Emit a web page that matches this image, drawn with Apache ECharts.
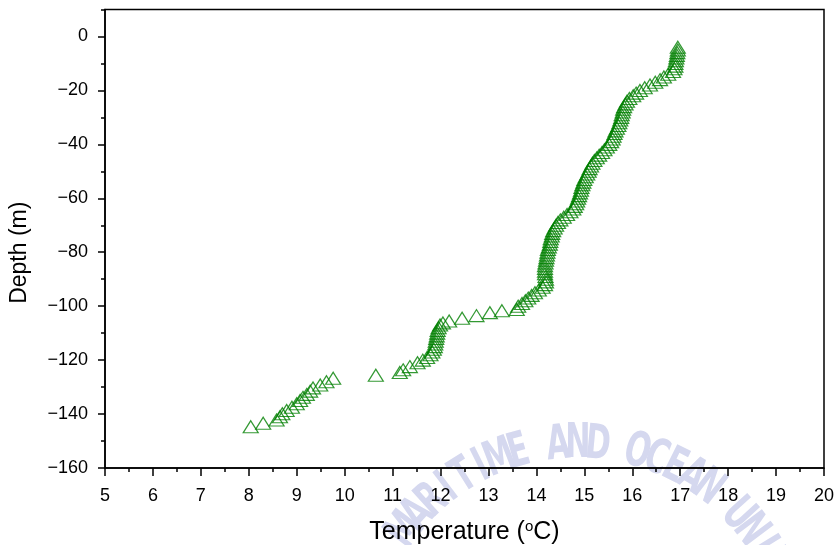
<!DOCTYPE html>
<html>
<head>
<meta charset="utf-8">
<script src="https://cdn.jsdelivr.net/npm/echarts@6/dist/echarts.min.js"></script>
<style>
html,body{margin:0;padding:0;background:#fff;}
#chart{width:837px;height:545px;}
</style>
</head>
<body>
<div id="chart"></div>
<script>
const depths = [
  -4,-5,-6,-7,-8,-9,-10,-11,-12,-13,-14,-15,-16,-17,-18,-19,-20,-21,-22,-23,-24,-25,-26,-27,-28,-29,-30,
  -31,-32,-33,-34,-35,-36,-37,-38,-39,-40,-41,-42,-43,-44,-45,-46,-47,-48,-49,-50,
  -51,-52,-53,-54,-55,-56,-57,-58,-59,-60,-61,-62,-63,-64,-65,-66,-67,-68,-69,-70,
  -71,-72,-73,-74,-75,-76,-77,-78,-79,-80,-81,-82,-83,-84,-85,-86,-87,-88,-89,-90,
  -91,-92,-93,-94,-95,-96,-97,-98,-99,-100,
  -101.2,-101.7,-102.4,-103.5,-104.5,-105.5,-106.2,-107,-108,-109,-110,
  -111,-112,-113,-114,-115,-116,-117,-118,-119,-120,-121,-122.4,-123.6,-124.6,-125.6,
  -126.7,-128,-129.2,-130.3,-131.5,-132.7,-133.8,-135,-136.2,-137.5,-138.7,-139.9,-141,-142.2,-143.4,-144.7
];
const temps = [
  16.95,16.95,16.94,16.93,16.92,16.91,16.9,16.9,16.88,16.85,16.75,16.66,16.58,16.48,16.37,16.26,16.16,16.08,16.02,15.94,15.89,15.86,15.83,15.81,15.8,15.78,15.77,
  15.75,15.73,15.71,15.68,15.65,15.63,15.61,15.59,15.56,15.52,15.47,15.42,15.37,15.31,15.26,15.21,15.17,15.14,15.11,15.09,
  15.06,15.03,15.0,14.98,14.96,14.94,14.93,14.91,14.89,14.87,14.85,14.83,14.8,14.77,14.71,14.64,14.57,14.5,14.45,14.41,
  14.38,14.35,14.33,14.32,14.3,14.29,14.28,14.26,14.24,14.23,14.22,14.21,14.2,14.19,14.18,14.18,14.18,14.18,14.19,14.2,
  14.2,14.18,14.13,14.05,13.97,13.9,13.83,13.77,13.7,13.62,
  13.59,13.28,13.03,12.75,12.45,12.18,12.05,11.99,11.96,11.94,11.93,
  11.92,11.91,11.9,11.89,11.88,11.86,11.83,11.79,11.72,11.63,11.52,11.36,11.22,11.15,10.65,
  9.76,9.62,9.49,9.34,9.28,9.21,9.13,9.07,9.0,8.9,8.79,8.7,8.65,8.58,8.3,8.04
];
const xTicks = {min: 5, max: 20, step: 1};
const yTicks = {min: -160, max: 10, step: 20};
const watermark = 'MARITIME AND OCEAN UNIV';

const points = depths.map((d, i) => [temps[i], d]);

// faint watermark letters along an arc
const wmGraphics = [];
const cx = 578, cy = 660, r = 215;
for (let i = 0; i < watermark.length; i++) {
  const ch = watermark[i];
  if (ch === ' ') continue;
  const ang = (-143 + i * 5.3) * Math.PI / 180;
  wmGraphics.push({
    type: 'text', z: -10, silent: true,
    x: cx + r * Math.cos(ang), y: cy + r * Math.sin(ang),
    rotation: -(ang + Math.PI / 2),
    scaleX: 0.7,
    style: {
      text: ch, fill: '#d5d8ef', font: 'bold 48px "Liberation Sans Narrow", "DejaVu Sans Condensed", sans-serif',
      align: 'center', verticalAlign: 'middle'
    }
  });
}

const chart = echarts.init(document.getElementById('chart'), null, {renderer: 'canvas'});
chart.setOption({
  animation: false,
  backgroundColor: '#fff',
  graphic: wmGraphics,
  grid: {left: 105, right: 13, top: 9.5, bottom: 77, containLabel: false, outerBoundsMode: 'none',
    show: true, borderColor: '#000', borderWidth: 1.5, backgroundColor: 'transparent'},
  xAxis: {
    type: 'value', min: xTicks.min, max: xTicks.max, interval: xTicks.step,
    name: '{n|Temperature (}{s|o}{n|C)}', nameLocation: 'middle', nameGap: 51,
    nameTextStyle: {rich: {
      n: {fontFamily: 'Liberation Sans', fontSize: 25, color: '#000'},
      s: {fontFamily: 'Liberation Sans', fontSize: 15, color: '#000', verticalAlign: 'top', padding: [0, 0, 11, 0]}
    }},
    axisLine: {show: true, onZero: false, lineStyle: {color: '#000', width: 1.5}},
    axisTick: {show: true, inside: false, length: 8, lineStyle: {color: '#000', width: 1.5}},
    minorTick: {show: true, splitNumber: 2, length: 4, lineStyle: {color: '#000', width: 1.5}},
    axisLabel: {fontFamily: 'Liberation Sans', fontSize: 18, color: '#000', margin: 19},
    splitLine: {show: false}
  },
  yAxis: [{
    type: 'value', min: yTicks.min, max: yTicks.max, interval: yTicks.step,
    name: 'Depth (m)', nameLocation: 'middle', nameGap: 74, nameRotate: 90,
    nameTextStyle: {fontFamily: 'Liberation Sans', fontSize: 23, color: '#000', padding: [0, 28, 0, 0]},
    axisLine: {show: true, onZero: false, lineStyle: {color: '#000', width: 1.5}},
    axisTick: {show: true, inside: false, length: 7, lineStyle: {color: '#000', width: 1.5}},
    axisLabel: {fontFamily: 'Liberation Sans', fontSize: 18, color: '#000', margin: 17, showMaxLabel: false,
      formatter: v => String(v).replace('-', '\u2212')},
    splitLine: {show: false}
  }, {
    type: 'value', position: 'left', min: yTicks.min, max: yTicks.max, interval: yTicks.step / 2,
    axisLine: {show: false, onZero: false},
    axisTick: {show: true, inside: false, length: 4, lineStyle: {color: '#000', width: 1.5}},
    axisLabel: {show: false},
    splitLine: {show: false}
  }],
  series: [{
    type: 'scatter', yAxisIndex: 0, data: points,
    symbol: 'triangle', symbolSize: [15, 12],
    itemStyle: {color: 'rgba(0,0,0,0)', borderColor: '#008000', borderWidth: 1.2},
    emphasis: {disabled: true}, silent: true
  }]
});
</script>
</body>
</html>
